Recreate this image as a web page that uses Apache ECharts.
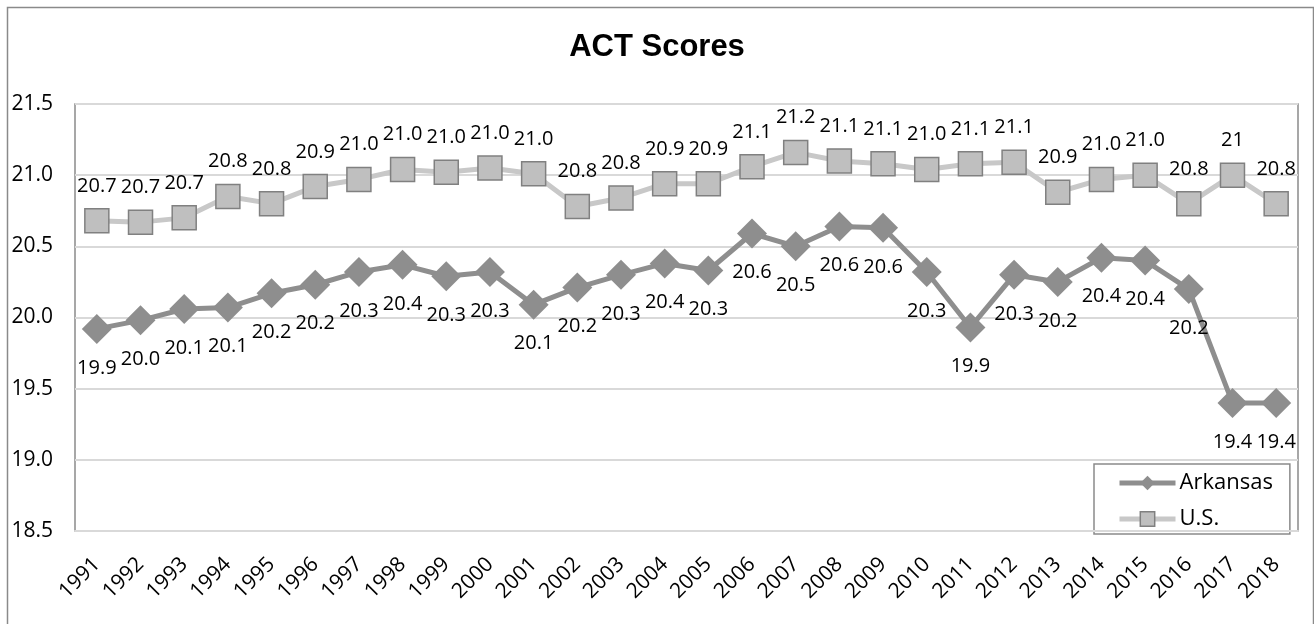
<!DOCTYPE html>
<html>
<head>
<meta charset="utf-8">
<script src="https://cdn.jsdelivr.net/npm/echarts@6/dist/echarts.min.js"></script>
<style>
html,body{margin:0;padding:0;background:#fff;}
#chart{width:1314px;height:624px;}
</style>
</head>
<body>
<div id="chart"></div>
<script>
const years = ['1991','1992','1993','1994','1995','1996','1997','1998','1999','2000','2001','2002','2003','2004','2005','2006','2007','2008','2009','2010','2011','2012','2013','2014','2015','2016','2017','2018'];
const arkansas = [19.92,19.98,20.06,20.07,20.17,20.23,20.32,20.37,20.29,20.32,20.09,20.21,20.30,20.38,20.33,20.59,20.50,20.64,20.63,20.32,19.93,20.30,20.25,20.42,20.40,20.20,19.40,19.40];
const arkansasLabels = ['19.9','20.0','20.1','20.1','20.2','20.2','20.3','20.4','20.3','20.3','20.1','20.2','20.3','20.4','20.3','20.6','20.5','20.6','20.6','20.3','19.9','20.3','20.2','20.4','20.4','20.2','19.4','19.4'];
const us = [20.68,20.67,20.70,20.85,20.80,20.92,20.97,21.04,21.02,21.05,21.01,20.78,20.84,20.94,20.94,21.06,21.16,21.10,21.08,21.04,21.08,21.09,20.88,20.97,21.00,20.80,21.00,20.80];
const usLabels = ['20.7','20.7','20.7','20.8','20.8','20.9','21.0','21.0','21.0','21.0','21.0','20.8','20.8','20.9','20.9','21.1','21.2','21.1','21.1','21.0','21.1','21.1','20.9','21.0','21.0','20.8','21','20.8'];
const yTicks = ['18.5','19.0','19.5','20.0','20.5','21.0','21.5'];

const FONT = '"Open Sans", "Noto Sans", sans-serif';
const chart = echarts.init(document.getElementById('chart'), null, {renderer:'canvas'});
chart.setOption({
  animation: false,
  backgroundColor: '#fff',
  graphic: [{
    type: 'rect', left: 5, top: 5, z: -10,
    shape: {width: 1306, height: 640},
    style: {fill: 'none', stroke: '#8a8a8a', lineWidth: 1.5}
  }],
  title: {
    text: 'ACT Scores', left: 'center', top: 27,
    textStyle: {fontFamily: '"Liberation Sans", Arial, sans-serif', fontWeight: 'bold', fontSize: 31, color: '#000'}
  },
  grid: {left: 75, right: 16, top: 104, bottom: 93, show: true, borderColor: '#8a8a8a', borderWidth: 1.5},
  xAxis: {
    type: 'category', data: years, boundaryGap: true, z: 10,
    axisLine: {lineStyle: {color: '#d9d9d9', width: 2}},
    axisTick: {show: false},
    axisLabel: {rotate: 45, margin: 30, fontFamily: FONT, fontSize: 21, color: '#000', interval: 0}
  },
  yAxis: {
    type: 'value', min: 18.5, max: 21.5, interval: 0.5,
    axisLine: {show: false}, axisTick: {show: false},
    splitLine: {lineStyle: {color: '#d9d9d9', width: 2}},
    axisLabel: {margin: 22, fontFamily: FONT, fontSize: 21, color: '#000',
      formatter: (v) => yTicks[Math.round((v - 18.5) / 0.5)]}
  },
  legend: {
    orient: 'vertical', left: 1094, top: 464, width: 196,
    padding: [8, 17, 4, 23], itemWidth: 56, itemHeight: 18, itemGap: 14,
    borderColor: '#8a8a8a', borderWidth: 1.5, backgroundColor: '#fff',
    textStyle: {fontFamily: FONT, fontSize: 22, color: '#000', padding: [0,0,0,-1]},
    data: [
      {name: 'Arkansas', itemStyle: {color: '#8e8e8e'}, lineStyle: {width: 5, color: '#8e8e8e'}},
      {name: 'U.S.', itemStyle: {color: '#bfbfbf', borderColor: '#808080', borderWidth: 1.5}, lineStyle: {width: 5, color: '#c8c8c8'}}
    ]
  },
  series: [
    {
      name: 'Arkansas', type: 'line', data: arkansas,
      symbol: 'diamond', symbolSize: 30,
      lineStyle: {color: '#8e8e8e', width: 5},
      itemStyle: {color: '#8e8e8e'},
      label: {show: true, position: 'bottom', distance: 14, fontFamily: FONT, fontSize: 20, color: '#000',
        formatter: (p) => arkansasLabels[p.dataIndex]}
    },
    {
      name: 'U.S.', type: 'line', data: us,
      symbol: 'rect', symbolSize: 24,
      lineStyle: {color: '#c8c8c8', width: 5},
      itemStyle: {color: '#bfbfbf', borderColor: '#808080', borderWidth: 1.5},
      label: {show: true, position: 'top', distance: 12, fontFamily: FONT, fontSize: 20, color: '#000',
        formatter: (p) => usLabels[p.dataIndex]}
    }
  ]
});
</script>
</body>
</html>
